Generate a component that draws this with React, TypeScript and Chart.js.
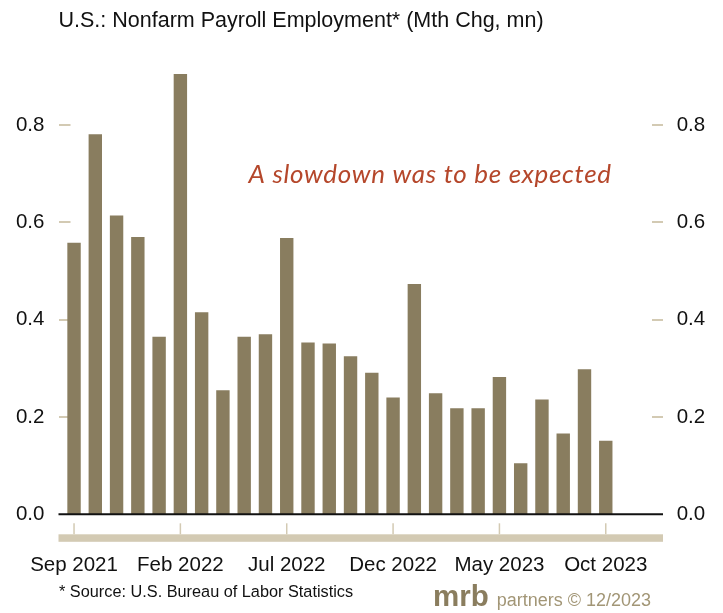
import React, { useEffect, useRef } from "react";
import { Chart, registerables } from "chart.js";

Chart.register(...registerables);

const months = [
  "Sep 2021", "Oct 2021", "Nov 2021", "Dec 2021", "Jan 2022", "Feb 2022",
  "Mar 2022", "Apr 2022", "May 2022", "Jun 2022", "Jul 2022", "Aug 2022",
  "Sep 2022", "Oct 2022", "Nov 2022", "Dec 2022", "Jan 2023", "Feb 2023",
  "Mar 2023", "Apr 2023", "May 2023", "Jun 2023", "Jul 2023", "Aug 2023",
  "Sep 2023", "Oct 2023",
];
const payrollChange = [
  0.558, 0.781, 0.614, 0.570, 0.365, 0.905, 0.415, 0.255, 0.365, 0.370,
  0.568, 0.353, 0.351, 0.325, 0.291, 0.240, 0.473, 0.249, 0.218, 0.218,
  0.282, 0.105, 0.236, 0.166, 0.298, 0.151,
];
const yTicks = [0, 0.2, 0.4, 0.6, 0.8];
const labelEvery = 5;

const TITLE = "U.S.: Nonfarm Payroll Employment* (Mth Chg, mn)";
const NOTE = "A slowdown was to be expected";
const SOURCE = "* Source: U.S. Bureau of Labor Statistics";

const BAR = "#897d5f";
const TAN = "#d3cab3";
const FONT = "'Liberation Sans', Arial, sans-serif";

const noPad = (s: any) => {
  s.paddingTop = 0;
  s.paddingBottom = 0;
  s.paddingLeft = 0;
  s.paddingRight = 0;
};

const decorPlugin = {
  id: "decor",
  beforeDatasetsDraw(chart: any) {
    const { ctx } = chart;
    const y = chart.scales.y;
    ctx.save();
    ctx.strokeStyle = TAN;
    ctx.lineWidth = 2;
    yTicks.forEach((v) => {
      if (v === 0) return;
      const py = Math.round(y.getPixelForValue(v));
      ctx.beginPath();
      ctx.moveTo(59, py);
      ctx.lineTo(70.5, py);
      ctx.moveTo(652, py);
      ctx.lineTo(663, py);
      ctx.stroke();
    });
    ctx.restore();
  },
  afterDatasetsDraw(chart: any) {
    const { ctx } = chart;
    const x = chart.scales.x;
    const y = chart.scales.y;
    const y0 = y.getPixelForValue(0);
    ctx.save();
    // zero line
    ctx.strokeStyle = "#111";
    ctx.lineWidth = 2;
    ctx.beginPath();
    ctx.moveTo(58.5, y0);
    ctx.lineTo(663, y0);
    ctx.stroke();
    // x band
    ctx.fillStyle = TAN;
    ctx.fillRect(58.5, y0 + 20, 604.5, 7.5);
    // x tick marks
    ctx.strokeStyle = TAN;
    ctx.lineWidth = 1.5;
    months.forEach((m, i) => {
      if (i % labelEvery !== 0) return;
      const px = x.getPixelForValue(i);
      ctx.beginPath();
      ctx.moveTo(px, y0 + 9);
      ctx.lineTo(px, y0 + 20);
      ctx.stroke();
    });
    // title
    ctx.fillStyle = "#111";
    ctx.textBaseline = "alphabetic";
    ctx.textAlign = "left";
    ctx.font = `21.5px ${FONT}`;
    ctx.fillText(TITLE, 58.5, 26.7);
    // annotation
    ctx.fillStyle = "#b5472b";
    ctx.font = `italic 26px Lato, 'Open Sans', sans-serif`;
    (ctx as any).letterSpacing = "0.7px";
    ctx.fillText(NOTE, 248.5, 183.3);
    (ctx as any).letterSpacing = "0px";
    // source
    ctx.fillStyle = "#111";
    ctx.font = `16.3px ${FONT}`;
    ctx.fillText(SOURCE, 59, 597);
    // logo
    ctx.fillStyle = "#8a7d5e";
    ctx.font = `bold 29.5px ${FONT}`;
    ctx.fillText("mrb", 433, 606);
    const w = ctx.measureText("mrb").width;
    ctx.fillStyle = "#a29676";
    ctx.font = `18px ${FONT}`;
    ctx.fillText("partners © 12/2023", 433 + w + 8, 606);
    ctx.restore();
  },
};

export default function App() {
  const ref = useRef<HTMLCanvasElement>(null);
  useEffect(() => {
    const chart = new Chart(ref.current as HTMLCanvasElement, {
      type: "bar",
      data: {
        labels: months,
        datasets: [
          {
            data: payrollChange,
            backgroundColor: BAR,
            borderWidth: 0,
            barPercentage: 0.63,
            categoryPercentage: 1,
            yAxisID: "y",
          },
        ],
      },
      options: {
        responsive: false,
        animation: false,
        layout: { padding: { top: 52, left: 0, right: 0, bottom: 0 } },
        plugins: { legend: { display: false }, tooltip: { enabled: false }, title: { display: false } },
        scales: {
          x: {
            grid: { display: false, drawTicks: false },
            border: { display: false },
            ticks: {
              autoSkip: false,
              maxRotation: 0,
              padding: 39,
              color: "#111",
              font: { family: FONT, size: 20.5 },
              callback: (_v: any, i: number) => (i % labelEvery === 0 ? months[i] : ""),
            },
            afterFit: (s: any) => {
              s.height = 98.7;
              noPad(s);
            },
          },
          y: {
            position: "left",
            min: 0,
            max: 0.95,
            grid: { display: false, drawTicks: false },
            border: { display: false },
            ticks: {
              padding: 19,
              color: "#111",
              font: { family: FONT, size: 20.5 },
              callback: (v: any) => Number(v).toFixed(1),
            },
            afterBuildTicks: (s: any) => {
              s.ticks = yTicks.map((v) => ({ value: v }));
            },
            afterFit: (s: any) => {
              s.width = 63.4;
              noPad(s);
            },
          },
          y2: {
            position: "right",
            min: 0,
            max: 0.95,
            grid: { display: false, drawTicks: false },
            border: { display: false },
            ticks: {
              padding: 60.3,
              color: "#111",
              font: { family: FONT, size: 20.5 },
              callback: (v: any) => Number(v).toFixed(1),
            },
            afterBuildTicks: (s: any) => {
              s.ticks = yTicks.map((v) => ({ value: v }));
            },
            afterFit: (s: any) => {
              s.width = 106.6;
              noPad(s);
            },
          },
        },
      },
      plugins: [decorPlugin],
    });
    return () => chart.destroy();
  }, []);
  return (
    <div style={{ position: "absolute", left: 0, top: 0, width: 723, height: 613, background: "#fff" }}>
      <canvas ref={ref} width={723} height={613} />
    </div>
  );
}
